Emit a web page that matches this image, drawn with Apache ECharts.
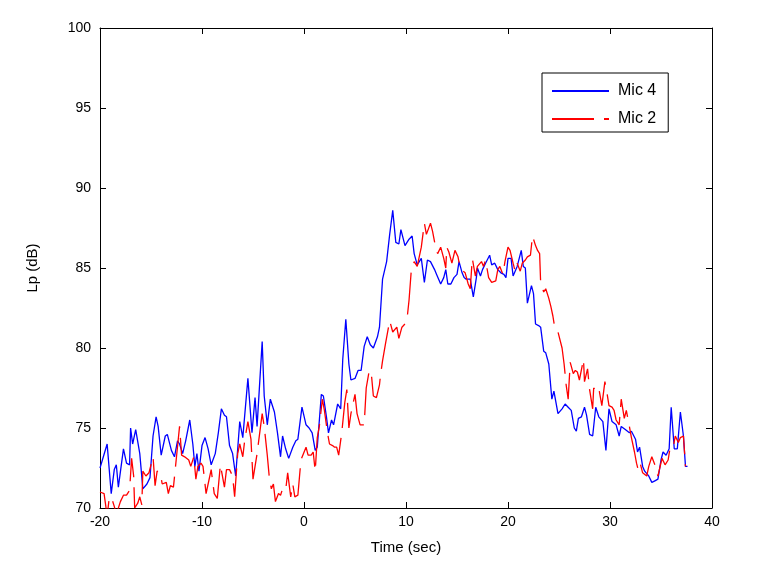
<!DOCTYPE html>
<html>
<head>
<meta charset="utf-8">
<script src="https://cdn.jsdelivr.net/npm/echarts@6/dist/echarts.min.js"></script>
<style>
html,body{margin:0;padding:0;background:#fff;}
#chart{width:765px;height:572px;}
</style>
</head>
<body>
<div id="chart"></div>
<script>
// Mic 4 (blue, solid)
const mic4Time = [-20.0,-19.3,-18.9,-18.6,-18.4,-18.2,-17.7,-17.4,-17.1,-17.0,-16.8,-16.5,-16.1,-15.8,-15.4,-15.1,-14.8,-14.5,-14.3,-14.0,-13.6,-13.4,-13.0,-12.7,-12.4,-12.2,-11.9,-11.6,-11.2,-10.9,-10.7,-10.5,-10.3,-10.0,-9.7,-9.4,-9.1,-8.7,-8.4,-8.1,-7.8,-7.6,-7.3,-7.0,-6.7,-6.3,-6.0,-5.5,-5.1,-4.8,-4.6,-4.1,-3.9,-3.6,-3.3,-2.9,-2.6,-2.3,-2.1,-1.8,-1.5,-1.1,-0.8,-0.6,-0.2,0.2,0.5,0.8,1.1,1.3,1.7,1.9,2.2,2.4,2.7,2.9,3.3,3.6,3.8,4.1,4.4,4.6,5.0,5.3,5.6,5.9,6.2,6.5,6.8,7.2,7.4,7.7,8.1,8.4,8.7,9.0,9.3,9.5,9.9,10.3,10.6,10.8,11.1,11.5,11.8,12.1,12.4,12.8,13.0,13.4,13.7,13.9,14.1,14.4,14.7,15.0,15.2,15.5,15.7,15.9,16.3,16.6,16.9,17.0,17.3,17.5,17.8,18.2,18.4,18.7,19.0,19.3,19.6,19.8,20.0,20.3,20.5,20.9,21.3,21.5,21.7,21.9,22.3,22.5,22.7,23.0,23.2,23.5,23.7,24.0,24.3,24.5,24.9,25.3,25.6,25.9,26.2,26.5,26.7,26.9,27.2,27.5,27.7,28.0,28.3,28.6,28.9,29.3,29.6,29.9,30.2,30.6,30.9,31.1,31.5,31.9,32.1,32.5,32.7,32.9,33.2,33.4,33.8,34.1,34.4,34.7,35.0,35.2,35.5,35.8,36.0,36.3,36.6,36.9,37.2,37.4,37.6];
const mic4Lp = [72.5,74.0,70.9,72.4,72.7,71.3,73.7,72.8,72.7,75.0,74.0,74.9,73.4,71.2,71.5,71.9,74.5,75.7,75.1,73.3,74.5,74.6,73.6,73.2,74.2,74.0,73.4,74.2,75.5,74.0,72.6,73.4,72.3,73.9,74.4,73.7,72.7,73.4,74.7,76.2,75.8,75.7,73.9,73.4,72.0,75.4,74.4,78.1,74.7,76.9,75.1,80.4,77.0,75.2,76.8,76.0,74.7,73.2,74.5,73.7,73.1,73.8,74.2,74.3,76.3,75.2,75.0,74.7,73.6,73.8,77.1,77.0,75.7,74.7,75.5,75.2,76.5,76.2,79.3,81.8,79.0,78.0,78.1,78.6,78.6,80.1,80.7,80.2,80.0,80.7,81.3,84.3,85.4,87.1,88.6,86.6,86.5,87.4,86.4,86.8,87.0,85.9,85.2,85.6,84.1,85.5,85.4,84.9,84.6,84.0,84.4,84.9,84.0,84.0,84.4,84.6,85.4,84.7,84.4,84.3,84.3,83.2,84.4,85.0,84.5,84.9,85.3,85.8,85.2,85.3,84.9,84.7,84.6,84.4,85.6,85.6,84.5,85.1,86.1,85.1,85.0,82.8,83.9,83.4,81.5,81.4,81.3,79.8,79.7,79.0,76.8,77.3,75.9,76.2,76.5,76.3,76.1,75.0,74.8,75.6,75.7,76.3,75.8,74.6,74.5,76.3,75.7,75.4,73.6,76.2,75.4,75.2,74.5,75.1,74.9,74.7,74.8,74.3,73.5,73.8,72.6,72.3,72.0,71.6,71.7,71.8,73.0,73.5,73.3,73.7,76.3,73.7,73.7,76.0,74.5,72.6,72.6];

// Mic 2 (red, dashed)
const mic2Time = [-20.0,-19.6,-19.3,-19.1,-18.9,-18.6,-18.4,-18.0,-17.7,-17.4,-17.1,-16.9,-16.7,-16.6,-16.3,-16.1,-15.9,-15.8,-15.5,-15.2,-14.8,-14.6,-14.4,-14.1,-13.9,-13.5,-13.3,-13.1,-12.8,-12.5,-12.2,-12.0,-11.7,-11.3,-11.1,-10.8,-10.6,-10.4,-10.1,-9.9,-9.6,-9.4,-9.1,-8.8,-8.5,-8.2,-7.8,-7.6,-7.3,-7.0,-6.8,-6.5,-6.3,-6.0,-5.8,-5.5,-5.2,-5.0,-4.6,-4.1,-3.9,-3.6,-3.4,-3.2,-3.0,-2.8,-2.5,-2.3,-2.1,-1.8,-1.6,-1.3,-1.1,-0.9,-0.6,-0.3,0.2,0.4,0.7,0.9,1.1,1.3,1.5,1.8,2.0,2.3,2.5,2.8,3.0,3.2,3.4,3.7,4.0,4.2,4.4,4.6,5.0,5.2,5.5,5.9,6.1,6.4,6.6,6.8,7.1,7.4,7.5,7.7,8.0,8.4,8.7,9.1,9.3,9.6,9.9,10.1,10.3,10.5,10.8,11.1,11.5,11.8,12.0,12.4,12.6,12.9,13.1,13.4,13.7,13.9,14.0,14.2,14.5,14.8,15.1,15.3,15.6,15.8,16.1,16.3,16.5,16.8,17.0,17.4,17.6,17.8,18.1,18.4,18.8,19.0,19.2,19.5,19.7,20.0,20.2,20.5,20.7,20.9,21.2,21.4,21.7,21.9,22.2,22.4,22.7,22.9,23.1,23.2,23.5,23.7,24.0,24.2,24.4,24.6,24.9,25.3,25.5,25.7,25.9,26.1,26.4,26.6,26.8,27.0,27.1,27.4,27.5,27.8,28.0,28.3,28.4,28.7,28.9,29.2,29.5,29.7,29.9,30.2,30.4,30.6,30.9,31.1,31.4,31.6,31.9,32.1,32.4,32.6,32.8,33.0,33.2,33.6,33.8,34.1,34.4,34.7,35.1,35.4,35.7,35.9,36.2,36.4,36.7,36.9,37.2,37.4];
const mic2Lp = [71.0,70.9,69.5,70.6,70.7,70.1,69.6,70.4,70.8,70.8,71.1,73.1,72.0,70.0,70.3,70.7,70.2,72.3,72.0,72.2,73.2,71.4,72.3,72.2,71.5,71.6,70.9,71.4,71.3,73.2,75.1,73.3,73.2,73.0,72.6,73.2,71.8,72.6,72.8,72.6,70.9,71.5,72.4,70.9,70.6,72.7,71.3,72.4,72.4,72.0,70.7,73.4,74.0,73.2,74.3,75.4,74.3,71.8,73.4,75.9,75.1,73.3,71.9,71.2,71.5,70.4,70.9,70.8,71.2,71.1,72.2,70.7,71.5,70.7,70.8,73.0,73.8,73.3,73.3,73.5,72.3,74.4,75.1,76.8,76.1,74.7,74.0,73.9,73.8,73.8,73.3,74.7,76.6,77.4,75.0,75.9,77.1,75.9,75.2,75.2,77.5,78.6,78.4,77.0,76.9,77.7,78.3,79.2,80.3,81.7,81.0,81.3,80.6,81.3,81.5,81.8,83.0,84.7,85.4,85.1,86.3,87.8,87.1,87.8,87.3,86.3,85.9,86.3,85.6,85.0,86.3,86.0,85.3,86.1,85.7,85.0,84.8,84.7,84.0,83.7,85.6,84.5,85.1,85.4,85.1,85.5,84.4,84.1,84.2,84.9,85.1,84.6,85.4,86.3,86.1,85.3,84.8,85.3,84.8,85.3,85.5,85.7,85.8,87.0,86.4,86.1,85.9,84.1,83.5,83.7,83.1,82.6,82.0,81.2,81.0,80.0,79.0,77.7,76.8,79.1,78.4,78.6,78.5,78.0,77.9,79.3,77.9,78.7,77.4,76.2,77.5,77.3,77.5,76.4,77.9,77.2,76.4,76.3,76.1,75.5,75.2,76.8,75.6,76.1,75.1,74.4,73.5,72.8,72.3,72.7,72.2,72.0,72.6,73.2,72.7,72.0,73.1,72.7,73.0,73.8,73.8,74.5,74.1,74.4,74.5,72.6];

const xTicks = {min: -20, max: 40, interval: 10};
const yTicks = {min: 70, max: 100, interval: 5};
const seriesNames = ['Mic 4', 'Mic 2'];

const pairs = (t, v) => t.map((x, i) => [x, v[i]]);
const font = 'Liberation Sans, Arial, sans-serif';

const chart = echarts.init(document.getElementById('chart'), null, {renderer: 'canvas'});

const baseAxisLine = {show: true, onZero: false, lineStyle: {color: '#000', width: 1}};
const tick = {show: true, inside: true, length: 6, lineStyle: {color: '#000', width: 1}};

chart.setOption({
  animation: false,
  backgroundColor: '#fff',
  textStyle: {fontFamily: font},
  grid: {left: 100, right: 53, top: 28, bottom: 64, containLabel: false},
  legend: {
    orient: 'vertical',
    left: 542, top: 73,
    data: seriesNames,
    backgroundColor: '#fff',
    borderColor: '#000', borderWidth: 1,
    padding: [10, 12, 5, 9],
    itemWidth: 57, itemHeight: 14, itemGap: 12,
    textStyle: {fontFamily: font, fontSize: 16, color: '#000', padding: [0, 0, 0, 4]},
    itemStyle: {opacity: 0}
  },
  xAxis: [
    {type: 'value', min: xTicks.min, max: xTicks.max, interval: xTicks.interval,
     name: 'Time (sec)', nameLocation: 'middle', nameGap: 32,
     nameTextStyle: {fontFamily: font, fontSize: 15, color: '#000'},
     axisLine: baseAxisLine, axisTick: tick,
     axisLabel: {fontFamily: font, fontSize: 14, color: '#000', margin: 7},
     splitLine: {show: false}},
    {type: 'value', position: 'top', min: xTicks.min, max: xTicks.max, interval: xTicks.interval,
     axisLine: baseAxisLine, axisTick: tick, axisLabel: {show: false}, splitLine: {show: false}}
  ],
  yAxis: [
    {type: 'value', min: yTicks.min, max: yTicks.max, interval: yTicks.interval,
     name: 'Lp (dB)', nameLocation: 'middle', nameGap: 60, nameRotate: 90,
     nameTextStyle: {fontFamily: font, fontSize: 15, color: '#000'},
     axisLine: baseAxisLine, axisTick: tick,
     axisLabel: {fontFamily: font, fontSize: 14, color: '#000', margin: 9},
     splitLine: {show: false}},
    {type: 'value', position: 'right', min: yTicks.min, max: yTicks.max, interval: yTicks.interval,
     axisLine: baseAxisLine, axisTick: tick, axisLabel: {show: false}, splitLine: {show: false}}
  ],
  series: [
    {name: seriesNames[0], type: 'line', data: pairs(mic4Time, mic4Lp),
     showSymbol: false, symbol: 'none', clip: true,
     lineStyle: {color: '#0000ff', width: 1.3}, itemStyle: {color: '#0000ff'}},
    {name: seriesNames[1], type: 'line', data: pairs(mic2Time, mic2Lp),
     showSymbol: false, symbol: 'none', clip: true,
     lineStyle: {color: '#ff0000', width: 1.3, type: [42, 10]}, itemStyle: {color: '#ff0000'}}
  ]
});
</script>
</body>
</html>
